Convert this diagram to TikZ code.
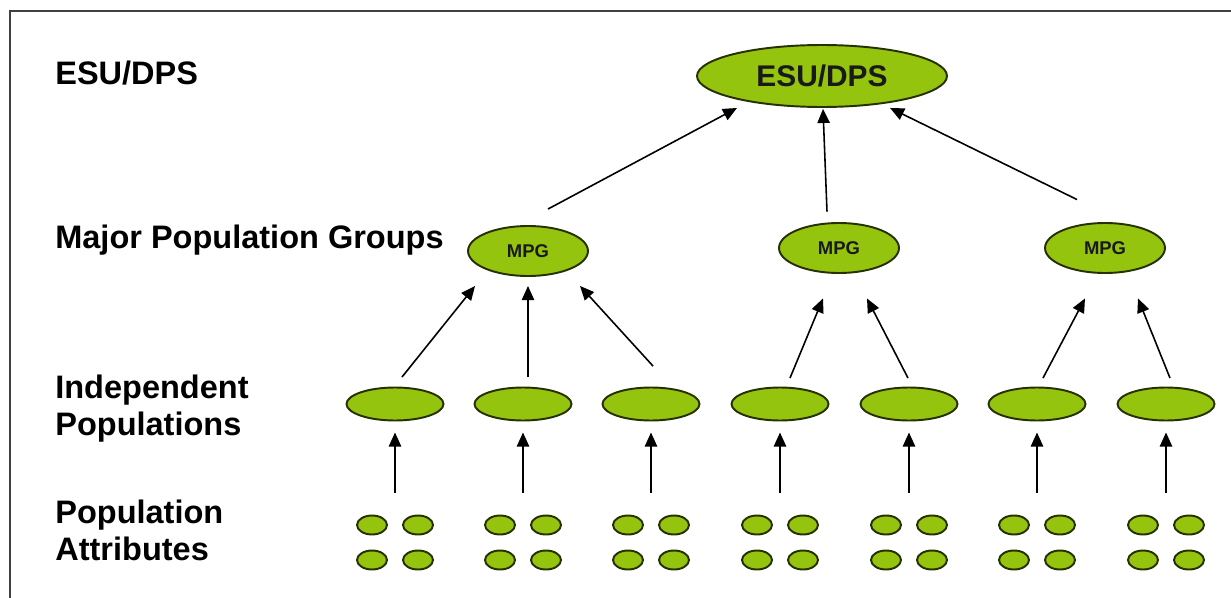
\documentclass[tikz,border=0pt]{standalone}
\usepackage{fontspec}
\setmainfont{Liberation Sans}
\usetikzlibrary{shapes.geometric}
\usetikzlibrary{arrows.meta}
\definecolor{popgreen}{RGB}{148,196,14}
\definecolor{popedge}{RGB}{38,48,0}
\tikzstyle{pop}=[ellipse, draw=popedge, fill=popgreen, line width=1.1pt, inner sep=0pt, text=black!90]
\tikzstyle{esu}=[pop, minimum width=5cm, minimum height=1.24cm, font=\fontsize{17}{17}\selectfont\bfseries]
\tikzstyle{mpg}=[pop, minimum width=2.4cm, minimum height=1cm, font=\fontsize{10.5}{10.5}\selectfont\bfseries]
\tikzstyle{indpop}=[pop, minimum width=1.94cm, minimum height=0.66cm]
\tikzstyle{attr}=[pop, minimum width=0.6cm, minimum height=0.38cm]
\tikzstyle{rowlabel}=[anchor=base west, inner sep=0pt, align=left, font=\fontsize{18.5}{21}\selectfont\bfseries]
\tikzstyle{upar}=[-{Triangle[length=8pt,width=7pt]}, line width=0.9pt]

\begin{document}
\begin{tikzpicture}[x=0.02cm, y=-0.02cm]
    \useasboundingbox (0,0) rectangle (1231,598);
    \draw[line width=1.2pt, black!75] (1231,11) -- (10,11) -- (10,598);

    % row labels
    \node[rowlabel] (lesu) at (55,85) {ESU/DPS};
    \node[rowlabel] (lmpg) at (55,248) {Major Population Groups};
    \node[rowlabel] (lind) at (55,435) {Independent\\Populations};
    \node[rowlabel] (lattr) at (55,560) {Population\\Attributes};

    % top and groups
    \node[esu] (E) at (822,76) {ESU/DPS};
    \node[mpg] (M1) at (528,251) {MPG};
    \node[mpg] (M2) at (839,248) {MPG};
    \node[mpg] (M3) at (1105,248) {MPG};

    % independent populations and their attributes
    \foreach \k/\x in {1/395, 2/523, 3/651, 4/780, 5/909, 6/1037, 7/1166} {
        \node[indpop] (I\k) at (\x,404) {};
        \node[attr] (A\k a) at (\x-23,525) {};
        \node[attr] (A\k b) at (\x+23,525) {};
        \node[attr] (A\k c) at (\x-23,560) {};
        \node[attr] (A\k d) at (\x+23,560) {};
        \draw[upar, shorten <=0.44cm, shorten >=0.22cm] (I\k |- A\k a.north) -- (I\k.south);
    }

    \draw[upar] ([shift={(7,-9.5)}]I1.north) -- ([shift={(-53,9)}]M1.south);
    \draw[upar] ([shift={(5,-9.5)}]I2.north) -- ([shift={(0,9)}]M1.south);
    \draw[upar] ([shift={(2,-20.5)}]I3.north) -- ([shift={(52,9)}]M1.south);
    \draw[upar] ([shift={(10,-8.5)}]I4.north) -- ([shift={(-16,24.5)}]M2.south);
    \draw[upar] ([shift={(-1,-8.5)}]I5.north) -- ([shift={(28,24.5)}]M2.south);
    \draw[upar] ([shift={(6,-8.5)}]I6.north) -- ([shift={(-20,24.5)}]M3.south);
    \draw[upar] ([shift={(4,-8.5)}]I7.north) -- ([shift={(33,24.5)}]M3.south);

    \draw[upar] ([shift={(20,-16)}]M1.north) -- ([shift={(-85,0)}]E.south);
    \draw[upar] ([shift={(-12,-10.5)}]M2.north) -- ([shift={(1,1)}]E.south);
    \draw[upar] ([shift={(-28,-22.5)}]M3.north) -- ([shift={(68,0)}]E.south);
\end{tikzpicture}
\end{document}
